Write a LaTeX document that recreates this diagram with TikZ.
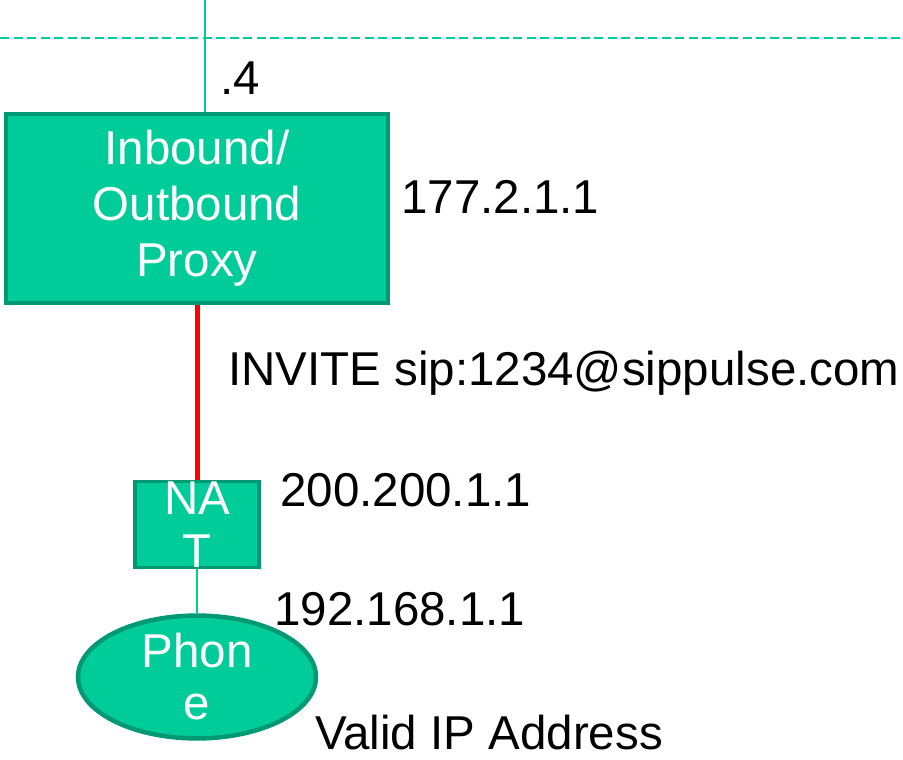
\documentclass[tikz,border=0pt]{standalone}
\usepackage{fontspec}
\setmainfont{Liberation Sans}
\usepackage{xcolor}
\usetikzlibrary{shapes.geometric}
\definecolor{sipgreen}{HTML}{00CC99}
\definecolor{sipdark}{HTML}{009973}
\tikzstyle{box} = [rectangle, draw=sipdark, fill=sipgreen, line width=4.5pt, text=white, align=center, inner sep=0pt]
\tikzstyle{phone} = [ellipse, draw=sipdark, fill=sipgreen, line width=4.5pt, text=white, align=center, inner sep=0pt]
\tikzstyle{addr} = [anchor=west, inner sep=0pt]
\tikzstyle{link} = [draw=sipgreen, line width=2pt]

\begin{document}
\begin{tikzpicture}[x=1pt, y=-1pt, font=\fontsize{47.5}{56}\selectfont]
\useasboundingbox (0,0) rectangle (903,760);
% network segment
\draw[link, dash pattern=on 9pt off 4.5pt] (0,38) -- (903,38);
\coordinate (up) at (205,0);
% boxes
\node[box, minimum width=382pt, minimum height=189pt] (proxy) at (197,208.5)
    {Inbound/\\[0pt]Outbound\\[0pt]Proxy};
\node[box, line width=3.5pt, minimum width=124pt, minimum height=79pt,
    font=\fontsize{47.5}{53}\selectfont] (nat) at (197,524.5) {NA\\T};
\node[phone, minimum width=238pt, minimum height=111pt,
    font=\fontsize{47.5}{52}\selectfont] (phone) at (197,677) {Phon\\e};
% links
\draw[link] (up) -- (up |- proxy.north);
\draw[red, line width=5pt] (proxy.south) -- (nat.north);
\draw[link] (nat.south) -- (phone.north);
% labels
\node[addr] (dot4) at (220,78) {.4};
\node[addr] (pubip) at (401,197) {177.2.1.1};
\node[addr] (invite) at (228,373) {INVITE sip:1234@sippulse.com};
\node[addr] (natip) at (280,490) {200.200.1.1};
\node[addr] (lanip) at (274,609) {192.168.1.1};
\node[addr] (valid) at (315,733) {Valid IP Address};
\end{tikzpicture}
\end{document}
